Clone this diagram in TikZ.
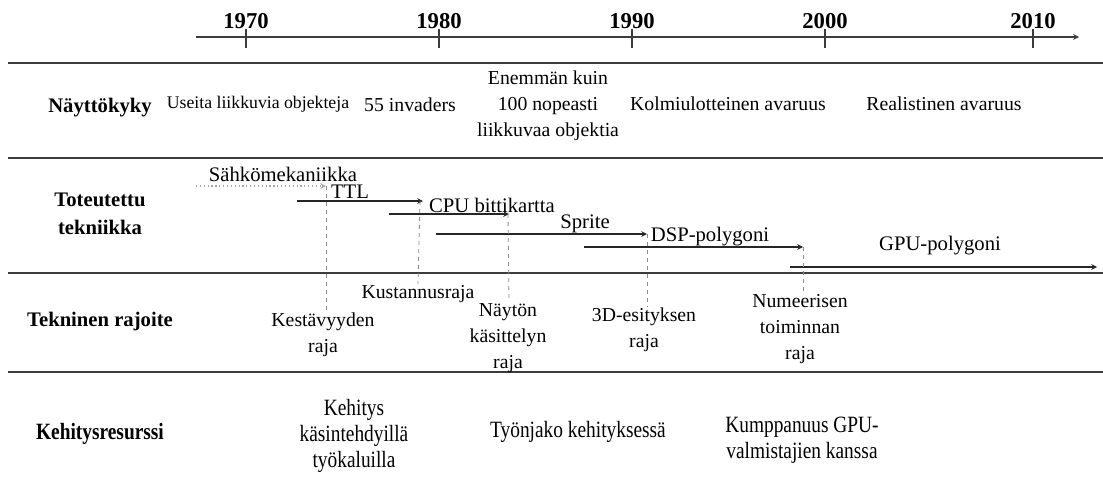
\documentclass[tikz,border=0pt]{standalone}
\usepackage{fontspec}
\setmainfont{Liberation Serif}
\newfontfamily\narrowserif[FakeStretch=0.83]{Liberation Serif}
\usepackage{tikz}
\usetikzlibrary{arrows}
\usepackage{xcolor}
\definecolor{tlgray}{RGB}{60,60,60}
\definecolor{tldash}{RGB}{140,140,140}
\definecolor{tldot}{RGB}{165,165,165}
\tikzstyle{rule} = [line width=1.3pt,color=tlgray]
\tikzstyle{axis} = [line width=0.9pt,->,>=stealth,color=tlgray]
\tikzstyle{arrow} = [line width=0.9pt,->,>=stealth,color=black!85]
\tikzstyle{dotarrow} = [line width=0.9pt,dotted,->,>=stealth,color=tldot]
\tikzstyle{raja} = [dashed,line width=0.6pt,color=tldash]
\tikzstyle{rowlabel} = [font=\bfseries\fontsize{15.5}{21}\selectfont,align=center]
\tikzstyle{cell} = [font=\fontsize{14.8}{19.5}\selectfont,align=center,inner sep=1pt]
\tikzstyle{tech} = [font=\fontsize{15.5}{19.5}\selectfont,inner sep=1pt]
\tikzstyle{resurssi} = [font=\narrowserif\fontsize{17.5}{19.5}\selectfont,align=center]

\begin{document}
\begin{tikzpicture}[x=0.75pt,y=-0.75pt]
\useasboundingbox (0,0) rectangle (1103,493);

% Time axis
\coordinate (ax0) at (196,37);
\coordinate (ax1) at (1079,37);
\draw[axis] (ax0) -- (ax1);
\foreach \x/\yr in {246/1970,439/1980,632/1990,825/2000,1033/2010} {
  \draw[line width=0.9pt,color=tlgray] (\x,29) -- (\x,48);
  \node[font=\bfseries\fontsize{17}{20}\selectfont] (y\yr) at (\x,21) {\yr};
}

% Row rules
\draw[rule] (8,63) -- (1103,63);
\draw[rule] (8,158) -- (1103,158);
\draw[rule] (8,273) -- (1103,273);
\draw[rule] (8,372) -- (1103,372);

% Row 1
\node[rowlabel] (naytto) at (100,108) {Näyttökyky};
\node[cell, font=\fontsize{13.3}{18}\selectfont] (useita) at (258,104) {Useita liikkuvia objekteja};
\node[cell] (invaders) at (410,105) {55 invaders};
\node[cell] (enemman) at (548,106) {Enemmän kuin\\100 nopeasti\\liikkuvaa objektia};
\node[cell] (kolmiul) at (728,104) {Kolmiulotteinen avaruus};
\node[cell] (realist) at (944,104) {Realistinen avaruus};

% Row 2
\node[rowlabel] (toteutettu) at (100,214) {Toteutettu\\tekniikka};
\coordinate (sahko0) at (196,186);
\coordinate (sahko1) at (326,186);
\coordinate (ttl0) at (297,201);
\coordinate (ttl1) at (423,201);
\coordinate (cpu0) at (389,214);
\coordinate (cpu1) at (509,214);
\coordinate (spr0) at (436,234);
\coordinate (spr1) at (647,234);
\coordinate (dsp0) at (584,247);
\coordinate (dsp1) at (803,247);
\coordinate (gpu0) at (790,267);
\coordinate (gpu1) at (1097,267);
\draw[dotarrow] (sahko0) -- (sahko1);
\draw[arrow] (ttl0) -- (ttl1);
\draw[arrow] (cpu0) -- (cpu1);
\draw[arrow] (spr0) -- (spr1);
\draw[arrow] (dsp0) -- (dsp1);
\draw[arrow] (gpu0) -- (gpu1);
\node[tech] (sahko) at (283,174) {Sähkömekaniikka};
\node[tech] (ttl) at (350,192) {TTL};
\node[tech] (cpu) at (492,205) {CPU bittikartta};
\node[tech] (sprite) at (585,224) {Sprite};
\node[tech] (dsp) at (710,237) {DSP-polygoni};
\node[tech] (gpu) at (940,246) {GPU-polygoni};

% Row 3
\node[rowlabel] (rajoite) at (100,322) {Tekninen rajoite};
\node[cell] (kustannus) at (418,294) {Kustannusraja};
\node[cell] (kestavyys) at (323,335) {Kestävyyden\\raja};
\node[cell] (nayton) at (508,338) {Näytön\\käsittelyn\\raja};
\node[cell] (esitys) at (644,330) {3D-esityksen\\raja};
\node[cell] (numeer) at (800,329) {Numeerisen\\toiminnan\\raja};
\draw[raja] (sahko1) -- (sahko1 |- kestavyys.north);
\draw[raja] (ttl1) ++(-3,0) -- (kustannus.north);
\draw[raja] (cpu1) ++(-1,0) -- (cpu1 |- nayton.north);
\draw[raja] (spr1) -- (spr1 |- esitys.north);
\draw[raja] (dsp1) -- (dsp1 |- numeer.north);

% Row 4
\node[resurssi, font=\narrowserif\bfseries\fontsize{17.5}{19.5}\selectfont] (kehitys) at (100,434) {Kehitysresurssi};
\node[resurssi] (kasin) at (354,436) {Kehitys\\käsintehdyillä\\työkaluilla};
\node[resurssi] (tyonjako) at (578,432) {Työnjako kehityksessä};
\node[resurssi] (kumpp) at (802,440) {Kumppanuus GPU-\\valmistajien kanssa};
\end{tikzpicture}
\end{document}
